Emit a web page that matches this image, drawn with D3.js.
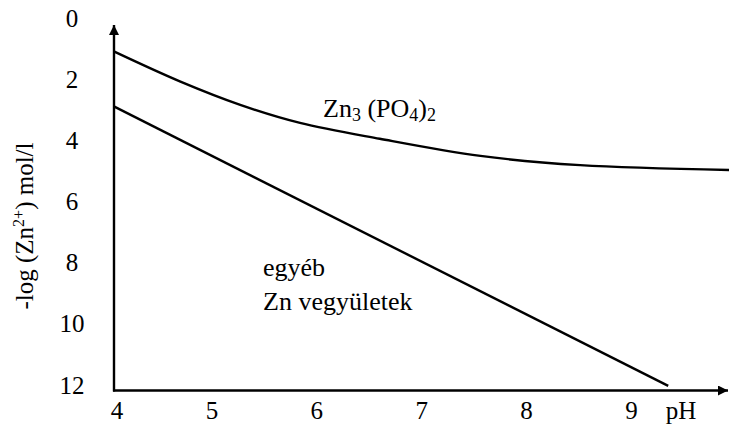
<!DOCTYPE html>
<html>
<head>
<meta charset="utf-8">
<script src="https://cdn.jsdelivr.net/npm/d3@7"></script>
</head>
<body style="margin:0">
<script>
// data
var xTicks = [4, 5, 6, 7, 8, 9];
var yTicks = [0, 2, 4, 6, 8, 10, 12];

// Zn3(PO4)2 curve: pH and -log(Zn2+)
var phosphatePH = [4.07, 4.70, 5.27, 5.84, 6.60, 7.56, 8.51, 9.95];
var phosphateVal = [1.10, 2.08, 2.84, 3.43, 3.95, 4.51, 4.81, 4.97];

// straight line (egyéb Zn vegyületek)
var otherPH = [4.07, 9.35];
var otherVal = [2.90, 12.03];

var w = 729,
    h = 427,
    fontSize = 25,
    labelSize = 26,
    subSize = 18;

var svg = d3.select("body")
            .append("svg")
            .attr("width", w)
            .attr("height", h);

// one helper so every text gets the same serif face
function addText(sel, size) {
  return sel.append("text")
            .style("font-family", "'Liberation Serif'")
            .attr("font-size", size || fontSize);
}

// scales
var xScale = d3.scaleLinear()
               .domain([4, 9])
               .range([107, 631.5]);

var yScale = d3.scaleLinear()
               .domain([0, 12])
               .range([18, 385]);

var axisX = 114,
    axisY = 390.5;

// arrow marker
svg.append("defs")
   .append("marker")
    .attr("id", "arrow")
    .attr("viewBox", "0 0 10 10")
    .attr("refX", 10)
    .attr("refY", 5)
    .attr("markerUnits", "userSpaceOnUse")
    .attr("markerWidth", 11)
    .attr("markerHeight", 10)
    .attr("orient", "auto")
  .append("path")
    .attr("d", "M0,0 L10,5 L0,10 Z")
    .attr("fill", "#000");

// axes lines
svg.append("line")
   .attr("x1", axisX).attr("y1", axisY + 1)
   .attr("x2", axisX).attr("y2", 25)
   .attr("stroke", "#000")
   .attr("stroke-width", 2.4)
   .attr("marker-end", "url(#arrow)");

svg.append("line")
   .attr("x1", axisX - 1).attr("y1", axisY)
   .attr("x2", 728).attr("y2", axisY)
   .attr("stroke", "#000")
   .attr("stroke-width", 2.4)
   .attr("marker-end", "url(#arrow)");

// y tick labels
yTicks.forEach(function(d) {
  addText(svg)
     .attr("x", 72)
     .attr("y", yScale(d) + 8.5)
     .attr("text-anchor", "middle")
     .text(d);
});

// x tick labels
xTicks.forEach(function(d) {
  addText(svg)
     .attr("x", xScale(d) + (d === 4 ? 10 : 0))
     .attr("y", 419)
     .attr("text-anchor", "middle")
     .text(d);
});

addText(svg)
   .attr("x", 681)
   .attr("y", 419)
   .attr("text-anchor", "middle")
   .text("pH");

// y axis label
var yLab = addText(svg)
   .attr("transform", "translate(33,226) rotate(-90)")
   .attr("text-anchor", "middle");
yLab.append("tspan").text("-log (Zn");
yLab.append("tspan").attr("dy", -9).attr("font-size", 16).text("2+");
yLab.append("tspan").attr("dy", 9).text(") mol/l");

// lines
var line = d3.line()
             .x(function(d) { return xScale(d[0]); })
             .y(function(d) { return yScale(d[1]); });

svg.append("path")
   .datum(d3.zip(phosphatePH, phosphateVal))
   .attr("d", line.curve(d3.curveCatmullRom))
   .attr("fill", "none")
   .attr("stroke", "#000")
   .attr("stroke-width", 2.4);

svg.append("path")
   .datum(d3.zip(otherPH, otherVal))
   .attr("d", line.curve(d3.curveLinear))
   .attr("fill", "none")
   .attr("stroke", "#000")
   .attr("stroke-width", 2.4);

// curve label Zn3 (PO4)2
var zLab = addText(svg, labelSize)
   .attr("x", 323)
   .attr("y", 117);
zLab.append("tspan").text("Zn");
zLab.append("tspan").attr("dy", 4).attr("font-size", subSize).text("3");
zLab.append("tspan").attr("dy", -4).text(" (PO");
zLab.append("tspan").attr("dy", 4).attr("font-size", subSize).text("4");
zLab.append("tspan").attr("dy", -4).text(")");
zLab.append("tspan").attr("dy", 4).attr("font-size", subSize).text("2");

// region label
addText(svg, labelSize)
   .attr("x", 263)
   .attr("y", 276)
   .text("egyéb");

addText(svg, labelSize)
   .attr("x", 263)
   .attr("y", 310)
   .text("Zn vegyületek");
</script>
</body>
</html>
